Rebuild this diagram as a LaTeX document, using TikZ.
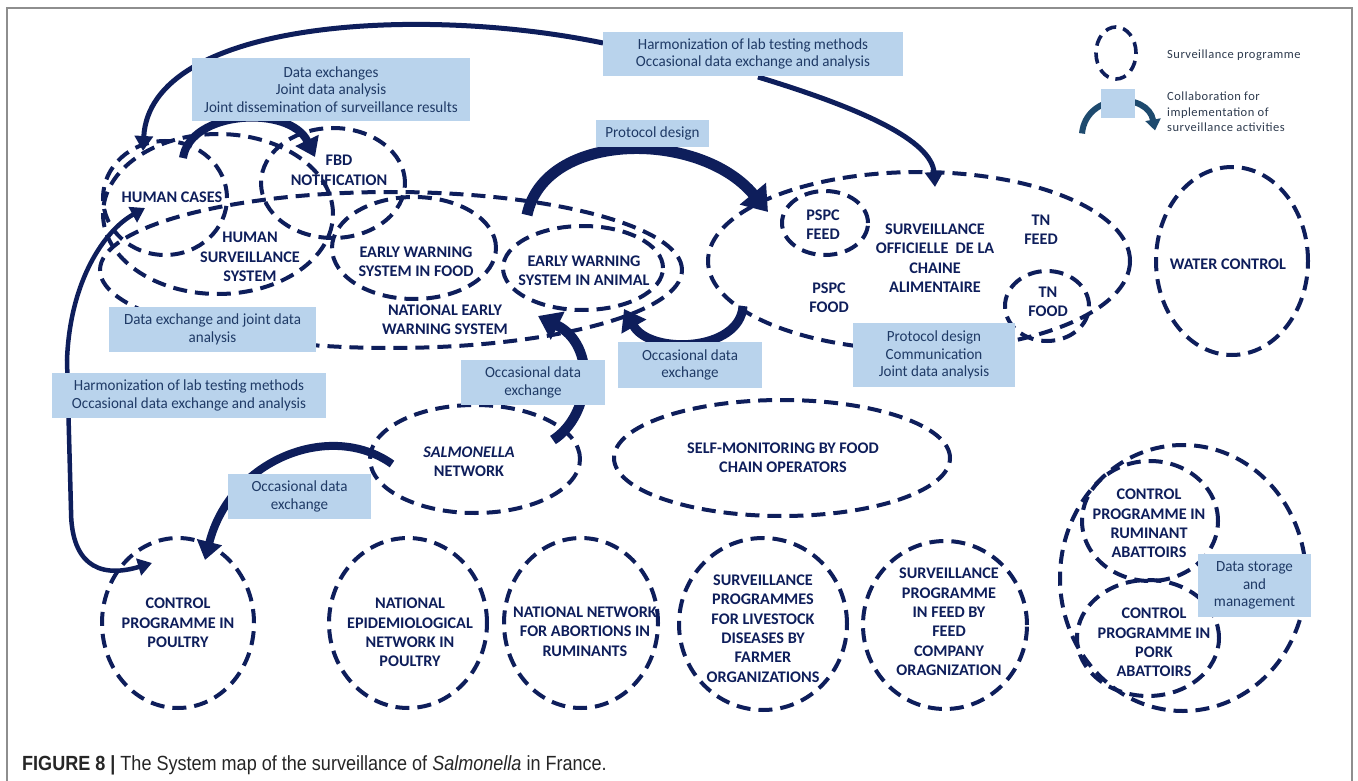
\documentclass[tikz,border=0pt]{standalone}
\usepackage{fontspec}
\setmainfont{Carlito}
\newfontfamily\boxfont[FakeStretch=0.97]{Carlito}
\newfontfamily\legfont[LetterSpace=4]{Carlito}
\newfontfamily\capfont[FakeStretch=0.88]{Liberation Sans}
\usetikzlibrary{shapes.geometric,arrows.meta,calc}
\definecolor{navy}{HTML}{0E1E5B}
\definecolor{boxblue}{HTML}{B9D3EC}
\definecolor{boxtext}{HTML}{1F3A66}
\definecolor{legarrow}{HTML}{1E4A6E}
\definecolor{legtext}{HTML}{2E3B4E}
\definecolor{framegray}{HTML}{8E8E8E}
\begin{document}
\begin{tikzpicture}[x=1pt,y=-1pt,
  prog/.style={draw=navy, line width=4pt, dash pattern=on 14pt off 8pt, ellipse, inner sep=0pt},
  lbl/.style={text=navy, font=\fontsize{16.2}{19.4}\selectfont\bfseries, align=center, inner sep=0pt},
  collab/.style={fill=boxblue, inner sep=0pt, text=boxtext, font=\boxfont\fontsize{15.5}{17.5}\selectfont, align=center},
  thinlink/.style={draw=navy, line width=5pt, -{Triangle[width=18pt,length=15pt]}},
  fatlink/.style={draw=navy, line width=#1, -{Triangle[width=2.6*#1+4pt,length=1.8*#1+4pt]}},
]
\useasboundingbox (0,0) rectangle (1358,781);
\fill[white] (0,0) rectangle (1358,781);
\draw[framegray, line width=1.2pt] (7,781) -- (7,8) -- (1352,8) -- (1352,781);

% ---------- surveillance programmes ----------
\node[prog, minimum width=582pt, minimum height=156pt] (news) at (391,270) {};
\node[prog, minimum width=124pt, minimum height=114pt] (hc) at (165,198) {};
\node[prog, minimum width=144pt, minimum height=110pt] (fbd) at (333,183) {};
\node[prog, minimum width=230pt, minimum height=160pt] (hss) at (218,214) {};
\node[prog, minimum width=164pt, minimum height=102pt] (ewf) at (414,248) {};
\node[prog, minimum width=160pt, minimum height=84pt] (ewa) at (583,268) {};
\node[prog, minimum width=422pt, minimum height=178pt] (sof) at (919,261) {};
\node[prog, minimum width=86pt, minimum height=64pt] (pspcf) at (825,223) {};
\node[prog, minimum width=84pt, minimum height=70pt] (tnf) at (1047,306) {};
\node[prog, minimum width=152pt, minimum height=188pt] (water) at (1232,261) {};
\node[prog, minimum width=210pt, minimum height=108pt] (salm) at (475,459) {};
\node[prog, minimum width=336pt, minimum height=116pt] (self) at (782,458) {};
\node[prog, minimum width=152pt, minimum height=170pt] (cpp) at (178,623) {};
\node[prog, minimum width=158pt, minimum height=170pt] (nepp) at (408,623) {};
\node[prog, minimum width=154pt, minimum height=170pt] (nnar) at (581,623) {};
\node[prog, minimum width=168pt, minimum height=172pt] (splv) at (763,624) {};
\node[prog, minimum width=164pt, minimum height=168pt] (spfc) at (945,625) {};
\node[prog, minimum width=246pt, minimum height=266pt] (abat) at (1183,578) {};
\node[prog, minimum width=136pt, minimum height=120pt] (cpra) at (1150,521) {};
\node[prog, minimum width=142pt, minimum height=116pt] (cppa) at (1148,638) {};

% ---------- legend ----------
\node[prog, line width=3.6pt, dash pattern=on 11pt off 7pt, minimum width=40pt, minimum height=52pt] (legE) at (1116,53) {};
\node[coordinate] (legC) at (1118,103.5) {};
\draw[legarrow, line width=6pt, -{Triangle[width=15pt,length=11pt]}]
  ([shift={(-36,30)}]legC) .. controls (1086,92) and (1148,92) .. ([shift={(37,27)}]legC);
\node[fill=boxblue, minimum width=34pt, minimum height=29pt, inner sep=0pt] (legB) at (legC) {};
\node[anchor=west, inner sep=0pt, text=legtext, font=\legfont\fontsize{12.5}{15.5}\selectfont] (legT1) at (1167,55) {Surveillance programme};
\node[anchor=west, inner sep=0pt, text=legtext, align=left, font=\legfont\fontsize{12.5}{15.5}\selectfont] (legT2) at (1167,112) {Collaboration for\\implementation of\\surveillance activities};

% ---------- collaboration arrows ----------
\node[coordinate] (bHarmTopC) at (753,54) {};
\draw[thinlink] ([shift={(-150,-11)}]bHarmTopC) .. controls (420,5) and (150,20) .. ([shift={(-22,-47)}]hc.center);
\draw[thinlink] ([shift={(5,23)}]bHarmTopC) .. controls (860,108) and (932,140) .. ([shift={(16,-74)}]sof.center);
\draw[fatlink=8pt] ([shift={(18,-40)}]hc.center) .. controls (190,110) and (290,105) .. ([shift={(-18,-26)}]fbd.center);
\draw[fatlink=11pt] ([shift={(136,-55)}]news.center) .. controls (545,130) and (700,130) .. ([shift={(-151,-49)}]sof.center);
\draw[fatlink=9pt] ([shift={(-176,45)}]sof.center) .. controls (740,352) and (650,355) .. ([shift={(41,41)}]ewa.center);
\draw[fatlink=10pt] ([shift={(78,-19)}]salm.center) .. controls (592,415) and (597,345) .. ([shift={(-45,48)}]ewa.center);
\draw[fatlink=8pt] ([shift={(-83,5)}]salm.center) .. controls (330,420) and (230,460) .. ([shift={(27,-63)}]cpp.center);
\draw[draw=navy, line width=4.5pt, {Triangle[width=17pt,length=14pt]}-{Triangle[width=17pt,length=14pt]}]
  ([shift={(-26,-60)}]cpp.center) .. controls (95,580) and (71,560) .. (71,510) -- (67,360)
  .. controls (70,280) and (105,230) .. ([shift={(-20,10)}]hc.center);

% ---------- collaboration boxes ----------
\node[collab, minimum width=300pt, minimum height=44pt] (bHarmTop) at (bHarmTopC) {Harmonization of lab testing methods\\Occasional data exchange and analysis};
\node[collab, minimum width=278pt, minimum height=63pt] (bData) at (331,89.5) {Data exchanges\\Joint data analysis\\Joint dissemination of surveillance results};
\node[collab, minimum width=113pt, minimum height=27pt] (bProt) at (652.5,133.5) {Protocol design};
\node[collab, minimum width=207pt, minimum height=45pt] (bDEJ) at (212.5,329.5) {Data exchange and joint data\\analysis};
\node[collab, minimum width=274pt, minimum height=45pt] (bHarmLeft) at (189,395.5) {Harmonization of lab testing methods\\Occasional data exchange and analysis};
\node[collab, minimum width=144pt, minimum height=45pt] (bOccMid) at (533,382.5) {Occasional data\\exchange};
\node[collab, minimum width=144pt, minimum height=46pt] (bOccR) at (690,365) {Occasional data\\exchange};
\node[collab, minimum width=162pt, minimum height=64pt] (bProtCom) at (934,355) {Protocol design\\Communication\\Joint data analysis};
\node[collab, minimum width=143pt, minimum height=45pt] (bOccBL) at (299.5,496.5) {Occasional data\\exchange};
\node[collab, minimum width=113pt, minimum height=63pt] (bStore) at (1254.5,585.5) {Data storage\\and\\management};

% ---------- programme labels ----------
\node[lbl] (thc) at (172,197) {HUMAN CASES};
\node[lbl] (tfbd) at (339,170.5) {FBD\\NOTIFICATION};
\node[lbl] (thss) at (250,257) {HUMAN\\SURVEILLANCE\\SYSTEM};
\node[lbl] (tewf) at (416,262) {EARLY WARNING\\SYSTEM IN FOOD};
\node[lbl] (tewa) at (584,270.5) {EARLY WARNING\\SYSTEM IN ANIMAL};
\node[lbl] (tnews) at (445,320) {NATIONAL EARLY\\WARNING SYSTEM};
\node[lbl] (tsof) at (935,258) {SURVEILLANCE\\OFFICIELLE\ \ DE LA\\CHAINE\\ALIMENTAIRE};
\node[lbl] (tpspcf) at (823,224.5) {PSPC\\FEED};
\node[lbl] (tpspcfood) at (829,297.5) {PSPC\\FOOD};
\node[lbl] (ttnfeed) at (1041,229.5) {TN\\FEED};
\node[lbl] (ttnfood) at (1048,302) {TN\\FOOD};
\node[lbl] (twater) at (1228,264) {WATER CONTROL};
\node[lbl] (tsalm) at (469,461.5) {\textit{SALMONELLA}\\NETWORK};
\node[lbl] (tself) at (783,457.5) {SELF-MONITORING BY FOOD\\CHAIN OPERATORS};
\node[lbl] (tcpp) at (178,623) {CONTROL\\PROGRAMME IN\\POULTRY};
\node[lbl] (tnepp) at (410,632.5) {NATIONAL\\EPIDEMIOLOGICAL\\NETWORK IN\\POULTRY};
\node[lbl] (tnnar) at (585,631.5) {NATIONAL NETWORK\\FOR ABORTIONS IN\\RUMINANTS};
\node[lbl] (tsplv) at (763,628.5) {SURVEILLANCE\\PROGRAMMES\\FOR LIVESTOCK\\DISEASES BY\\FARMER\\ORGANIZATIONS};
\node[lbl] (tspfc) at (949,622) {SURVEILLANCE\\PROGRAMME\\IN FEED BY\\FEED\\COMPANY\\ORAGNIZATION};
\node[lbl] (tcpra) at (1149,523.5) {CONTROL\\PROGRAMME IN\\RUMINANT\\ABATTOIRS};
\node[lbl] (tcppa) at (1154,642.5) {CONTROL\\PROGRAMME IN\\PORK\\ABATTOIRS};

% ---------- caption ----------
\node[anchor=west, inner sep=0pt, text=black!85, font=\capfont\fontsize{20.5}{24}\selectfont] (cap) at (22,765)
  {\textbf{FIGURE 8 |} The System map of the surveillance of \textit{Salmonella} in France.};
\end{tikzpicture}
\end{document}
